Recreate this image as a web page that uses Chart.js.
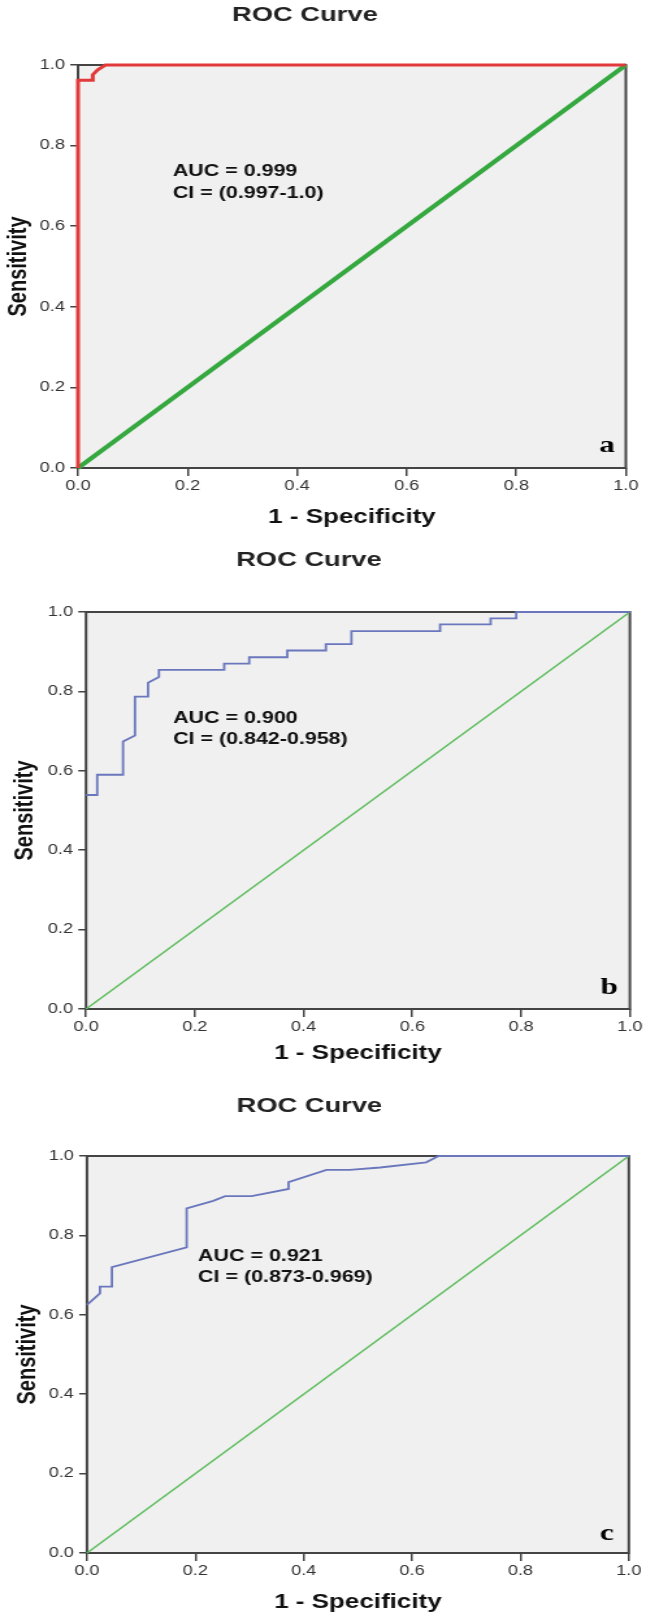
<!DOCTYPE html>
<html>
<head>
<meta charset="utf-8">
<script src="https://cdn.jsdelivr.net/npm/chart.js@4.4.1/dist/chart.umd.min.js"></script>
<style>
  html, body { margin: 0; padding: 0; background: #fff; overflow: hidden; }
  body { width: 646px; height: 1621px; position: relative; }
  /* the source figure is stretched horizontally, so the canvases are too */
  canvas { position: absolute; left: 0; transform: scaleX(1.2998); transform-origin: 0 0; }
</style>
</head>
<body>
<canvas id="rocA" width="497" height="540" style="top:0px;width:497px;height:540px"></canvas>
<canvas id="rocB" width="497" height="540" style="top:547px;width:497px;height:540px"></canvas>
<canvas id="rocC" width="497" height="530" style="top:1091px;width:497px;height:530px"></canvas>

<script>
// ---- data ----
const tickValues = [0, 0.2, 0.4, 0.6, 0.8, 1.0];

const diagonalX = [0, 1];
const diagonalY = [0, 1];

// panel a
const rocA_fpr = [0, 0, 0.027, 0.027, 0.036, 0.05, 1];
const rocA_tpr = [0, 0.962, 0.962, 0.976, 0.988, 1, 1];

// panel b
const rocB_fpr = [0, 0.0205, 0.0205, 0.068, 0.068, 0.090, 0.090, 0.114, 0.114, 0.134, 0.134, 0.254, 0.254, 0.300,
                  0.300, 0.370, 0.370, 0.441, 0.441, 0.488, 0.488, 0.651, 0.651, 0.744, 0.744, 0.791, 0.791, 1];
const rocB_tpr = [0.539, 0.539, 0.590, 0.590, 0.674, 0.689, 0.787, 0.787, 0.822, 0.836, 0.854, 0.854, 0.870, 0.870,
                  0.886, 0.886, 0.903, 0.903, 0.919, 0.919, 0.952, 0.952, 0.969, 0.969, 0.984, 0.984, 1, 1];

// panel c
const rocC_fpr = [0, 0.024, 0.024, 0.046, 0.046, 0.184, 0.184, 0.233, 0.255, 0.304, 0.372, 0.372, 0.442, 0.485, 0.541, 0.626, 0.649, 1];
const rocC_tpr = [0.625, 0.654, 0.671, 0.671, 0.720, 0.770, 0.868, 0.887, 0.899, 0.899, 0.917, 0.934, 0.965, 0.965, 0.971, 0.984, 1, 1];

const aucLabels = ["AUC = 0.999", "AUC = 0.900", "AUC = 0.921"];
const ciLabels = ["CI = (0.997-1.0)", "CI = (0.842-0.958)", "CI = (0.873-0.969)"];
const panelLetters = ["a", "b", "c"];

const FONT = "'Liberation Sans', Arial, sans-serif";

function toPoints(xs, ys) {
  return xs.map((x, i) => ({ x: x, y: ys[i] }));
}

// ------------------------------
// background, frame and the text inside each panel
// ------------------------------
const panelDecor = {
  id: "panelDecor",
  beforeDraw(chart) {
    const { ctx, chartArea: a } = chart;
    ctx.save();
    ctx.fillStyle = "#f0f0f0";
    ctx.fillRect(a.left, a.top, a.right - a.left, a.bottom - a.top);
    ctx.restore();
  },
  beforeDatasetsDraw(chart) {
    const { ctx, chartArea: a } = chart;
    ctx.save();
    ctx.strokeStyle = "#444";
    ctx.lineWidth = 2;
    ctx.strokeRect(a.left, a.top, a.right - a.left, a.bottom - a.top);
    ctx.restore();
  },
  afterDraw(chart, args, opts) {
    const ctx = chart.ctx;
    const xs = chart.scales.x;
    const ys = chart.scales.y;
    ctx.save();

    // chart title
    ctx.fillStyle = "#222";
    ctx.font = "bold 21px " + FONT;
    ctx.textAlign = "center";
    ctx.textBaseline = "middle";
    ctx.fillText("ROC Curve", opts.titleX, opts.titleY);

    // AUC / CI
    ctx.fillStyle = "#111";
    ctx.font = "bold 16.5px " + FONT;
    ctx.textAlign = "left";
    ctx.fillText(opts.auc, xs.getPixelForValue(opts.textPos[0]), ys.getPixelForValue(opts.textPos[1]));
    ctx.fillText(opts.ci, xs.getPixelForValue(opts.textPos[0]), ys.getPixelForValue(opts.textPos[2]));

    // panel letter
    ctx.fillStyle = "#000";
    ctx.font = "bold 24px 'Liberation Serif', 'Times New Roman', serif";
    ctx.textAlign = "right";
    ctx.textBaseline = "alphabetic";
    ctx.fillText(opts.letter, xs.getPixelForValue(opts.letterPos[0]), ys.getPixelForValue(opts.letterPos[1]));

    ctx.restore();
  }
};

// ------------------------------
// one ROC panel
// ------------------------------
function makeChart(id, p) {
  return new Chart(document.getElementById(id), {
    type: "line",
    data: {
      datasets: [
        {
          data: toPoints(p.fpr, p.tpr),
          borderColor: p.curveColor,
          borderWidth: p.curveWidth,
          clip: 6
        },
        {
          data: toPoints(diagonalX, diagonalY),
          borderColor: p.diagColor,
          borderWidth: p.diagWidth,
          clip: 6
        }
      ]
    },
    options: {
      responsive: false,
      animation: false,
      devicePixelRatio: 1,
      parsing: true,
      layout: { padding: { top: 65, right: p.padRight, left: 0, bottom: 0 } },
      elements: { point: { radius: 0 }, line: { tension: 0, borderJoinStyle: "miter" } },
      plugins: {
        legend: { display: false },
        tooltip: { enabled: false },
        panelDecor: {
          titleX: p.titleX, titleY: p.titleY,
          auc: p.auc, ci: p.ci, textPos: p.textPos,
          letter: p.letter, letterPos: p.letterPos
        }
      },
      scales: {
        x: {
          type: "linear",
          min: 0,
          max: 1,
          afterBuildTicks: (s) => { s.ticks = tickValues.map((v) => ({ value: v })); },
          afterFit: (s) => { s.height = p.xBox; },
          ticks: {
            callback: (v) => Number(v).toFixed(1),
            maxRotation: 0,
            autoSkip: false,
            padding: 2,
            color: "#333",
            font: { size: 14, family: FONT }
          },
          grid: { display: true, drawOnChartArea: false, drawTicks: true, tickLength: 8, color: "#444", lineWidth: 1.5 },
          border: { display: false },
          title: {
            display: true,
            text: "1 - Specificity",
            color: "#111",
            font: { size: 20, weight: "bold", family: FONT },
            padding: { top: 0, bottom: p.xTitlePad }
          }
        },
        y: {
          type: "linear",
          min: 0,
          max: 1,
          afterBuildTicks: (s) => { s.ticks = tickValues.map((v) => ({ value: v })); },
          afterFit: (s) => { s.width = p.yBox; },
          ticks: {
            callback: (v) => Number(v).toFixed(1),
            autoSkip: false,
            padding: 4,
            color: "#333",
            font: { size: 14, family: FONT }
          },
          grid: { display: true, drawOnChartArea: false, drawTicks: true, tickLength: 6, color: "#444", lineWidth: 1.5 },
          border: { display: false },
          title: {
            display: true,
            text: "Sensitivity",
            color: "#111",
            font: { size: 20, weight: "bold", family: FONT },
            padding: { top: p.yTitlePad, bottom: 0 }
          }
        }
      }
    },
    plugins: [panelDecor]
  });
}

makeChart("rocA", {
  fpr: rocA_fpr, tpr: rocA_tpr,
  curveColor: "#e23a3a", curveWidth: 3,
  diagColor: "#35a83f", diagWidth: 4,
  padRight: 15.5, xBox: 72, xTitlePad: 11, yBox: 60, yTitlePad: 2,
  titleX: 234.6, titleY: 15,
  auc: aucLabels[0], ci: ciLabels[0], textPos: [0.173, 0.737, 0.682],
  letter: panelLetters[0], letterPos: [0.98, 0.04]
});

makeChart("rocB", {
  fpr: rocB_fpr, tpr: rocB_tpr,
  curveColor: "#6a77bd", curveWidth: 1.8,
  diagColor: "#5cbd5c", diagWidth: 1.5,
  padRight: 12.4, xBox: 78, xTitlePad: 22, yBox: 66.2, yTitlePad: 7,
  titleX: 237.7, titleY: 13,
  auc: aucLabels[1], ci: ciLabels[1], textPos: [0.160, 0.733, 0.680],
  letter: panelLetters[1], letterPos: [0.978, 0.038]
});

makeChart("rocC", {
  fpr: rocC_fpr, tpr: rocC_tpr,
  curveColor: "#6a77bd", curveWidth: 1.8,
  diagColor: "#5cbd5c", diagWidth: 1.5,
  padRight: 13.2, xBox: 68, xTitlePad: 7, yBox: 66.9, yTitlePad: 9,
  titleX: 238, titleY: 15,
  auc: aucLabels[2], ci: ciLabels[2], textPos: [0.205, 0.746, 0.694],
  letter: panelLetters[2], letterPos: [0.972, 0.033]
});
</script>
</body>
</html>
